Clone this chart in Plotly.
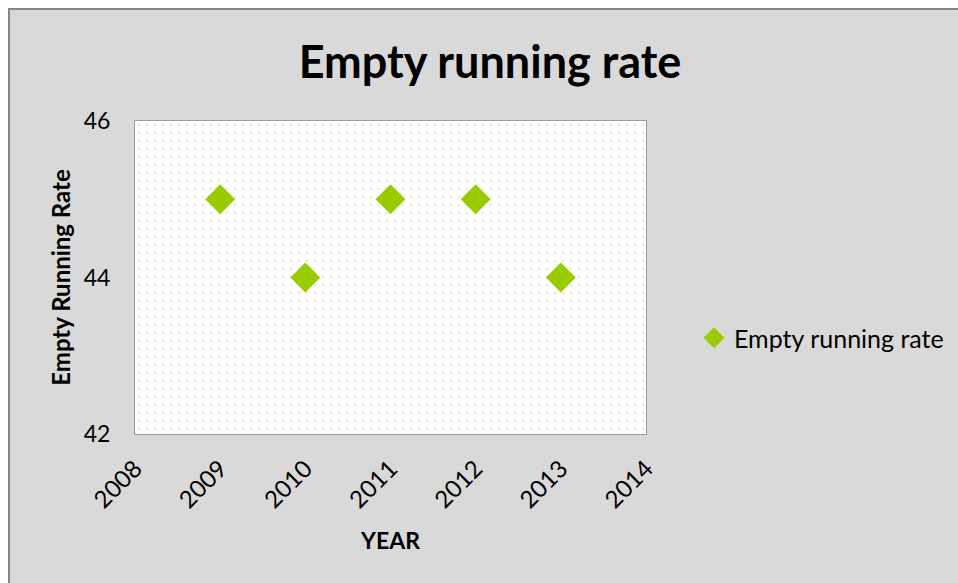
import plotly.graph_objects as go

years = [2009, 2010, 2011, 2012, 2013]
rates = [45, 44, 45, 45, 44]
series_name = "Empty running rate"
x_range = [2008, 2014]
y_range = [42, 46]

W, H = 958, 583
L, R, T, B = 135, 312, 121, 149
pw, ph = W - L - R, H - T - B
FONT = "Lato"

def px_x(p):
    return (p - L) / pw

def px_y(p):
    return (H - B - p) / ph

fig = go.Figure()

# plot-area background with dotted pattern
fig.add_trace(go.Scatter(
    x=[x_range[0], x_range[1], x_range[1], x_range[0], x_range[0]],
    y=[y_range[0], y_range[0], y_range[1], y_range[1], y_range[0]],
    mode="none", fill="toself", fillcolor="white",
    fillpattern=dict(shape=".", size=8, solidity=0.07, fgcolor="#c8c8c8", bgcolor="white"),
    hoverinfo="skip", showlegend=False,
))

fig.add_trace(go.Scatter(
    x=years, y=rates, mode="markers", name=series_name,
    marker=dict(symbol="diamond", size=23, color="#99cc00", line=dict(width=0)),
))

fig.add_shape(type="rect", xref="paper", yref="paper",
              x0=px_x(9), x1=px_x(1000), y0=px_y(1000), y1=px_y(9),
              fillcolor="#d9d9d9", line=dict(color="#868686", width=2), layer="below")

fig.update_layout(
    width=W, height=H,
    margin=dict(l=L, r=R, t=T, b=B, pad=0, autoexpand=False),
    paper_bgcolor="white", plot_bgcolor="white",
    font=dict(family=FONT, color="#000000"),
    title=dict(text="<b>Empty running rate</b>", xref="container", x=490 / W, xanchor="center",
               yref="container", y=1 - 62 / H, yanchor="middle", font=dict(size=45, family=FONT)),
    showlegend=True,
    legend=dict(x=px_x(694), y=px_y(338), xanchor="left", yanchor="middle",
                bgcolor="rgba(0,0,0,0)", font=dict(size=25, family=FONT),
                itemwidth=30, tracegroupgap=0),
)

fig.update_xaxes(range=x_range, dtick=1, tickangle=-45, showgrid=False, zeroline=False,
                 showline=True, linecolor="#9a9a9a", linewidth=1, mirror=True,
                 tickfont=dict(size=24, family=FONT), ticks="", ticklabelstandoff=10,
                 automargin=False,
                 title=dict(text="<b>YEAR</b>", font=dict(size=23, family=FONT), standoff=20))
fig.update_yaxes(range=y_range, dtick=2, showgrid=True, gridcolor="#868686", gridwidth=1,
                 zeroline=False, showline=True, linecolor="#9a9a9a", linewidth=1, mirror=True,
                 tickfont=dict(size=23, family=FONT), ticks="", ticklabelstandoff=19,
                 automargin=False,
                 title=dict(text="<b>Empty Running Rate</b>", font=dict(size=24, family=FONT), standoff=6))

fig.write_html("out.html")
